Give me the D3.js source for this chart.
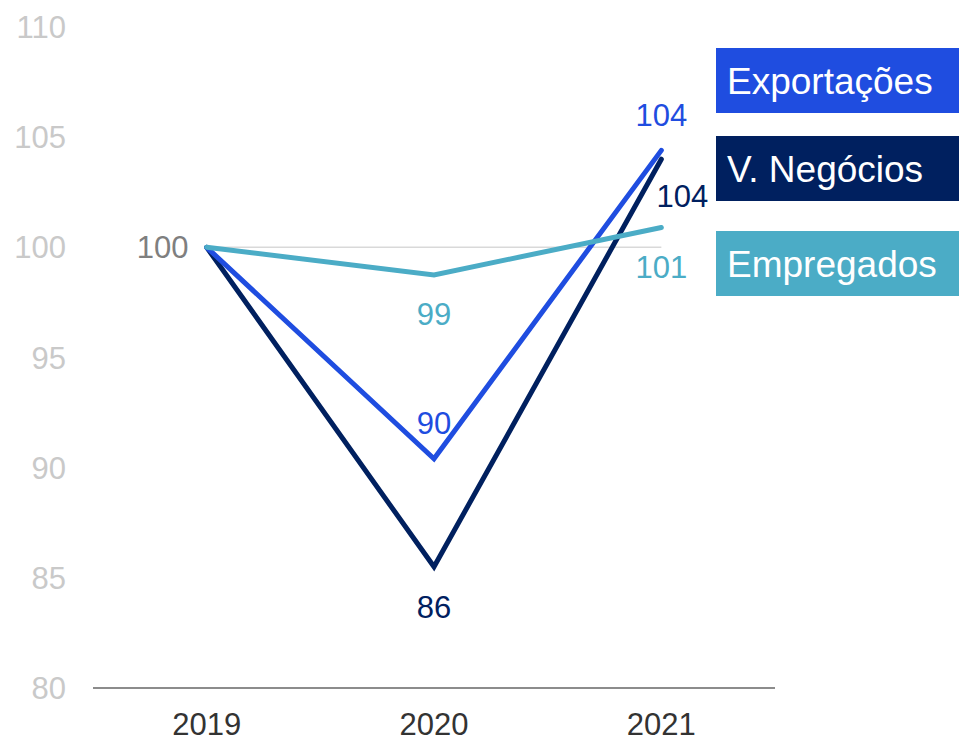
<!DOCTYPE html>
<html>
<head>
<meta charset="utf-8">
<script src="https://cdn.jsdelivr.net/npm/d3@7"></script>
<style>
  body { margin: 0; background: #fff; }
  svg { font-family: "Liberation Sans", Arial, sans-serif; }
</style>
</head>
<body>
<div id="chart"></div>
<script>
// data
const years = ["2019", "2020", "2021"];
const exportacoes = [100, 90.4, 104.4];
const negocios = [100, 85.5, 104.0];
const empregados = [100, 98.75, 100.9];
const yTicks = [80, 85, 90, 95, 100, 105, 110];

const width = 959, height = 738;

const svg = d3.select("#chart").append("svg")
    .attr("width", width)
    .attr("height", height);

const x = d3.scalePoint()
    .domain(years)
    .range([93, 775])
    .padding(0.5);

const y = d3.scaleLinear()
    .domain([80, 110])
    .range([688, 27]);

// y tick labels
svg.append("g").selectAll("text")
    .data(yTicks)
    .enter().append("text")
    .attr("x", 66)
    .attr("y", d => y(d))
    .attr("dy", "0.36em")
    .attr("text-anchor", "end")
    .style("font-size", "31px")
    .style("fill", "#c9c9c9")
    .text(d => d);

// gridline at 100
svg.append("line")
    .attr("x1", x("2019")).attr("x2", x("2021"))
    .attr("y1", y(100)).attr("y2", y(100))
    .style("stroke", "#d9d9d9")
    .style("stroke-width", 1.5);

// x axis
svg.append("line")
    .attr("x1", 93).attr("x2", 775)
    .attr("y1", y(80)).attr("y2", y(80))
    .style("stroke", "#8c8c8c")
    .style("stroke-width", 2);

svg.append("g").selectAll("text")
    .data(years)
    .enter().append("text")
    .attr("x", d => x(d))
    .attr("y", 735)
    .attr("text-anchor", "middle")
    .style("font-size", "31px")
    .style("fill", "#333")
    .text(d => d);

const series = [
    { name: "Exportações", values: exportacoes, color: "#1f4de0" },
    { name: "V. Negócios", values: negocios, color: "#00205f" },
    { name: "Empregados", values: empregados, color: "#4bacc6" }
];

const line = d3.line()
    .x((d, i) => x(years[i]))
    .y(d => y(d));

// draw order: navy, blue, teal on top
[series[1], series[0], series[2]].forEach(s => {
    svg.append("path")
        .datum(s.values)
        .attr("d", line)
        .style("fill", "none")
        .style("stroke", s.color)
        .style("stroke-width", 5)
        .style("stroke-linecap", "round")
        .style("stroke-linejoin", "miter");
});

// data labels
const labels = [
    { s: 0, i: 0, dx: -44, dy: 0, color: "#7f7f7f" },
    { s: 2, i: 1, dx: 0, dy: 39 },
    { s: 0, i: 1, dx: 0, dy: -36 },
    { s: 1, i: 1, dx: 0, dy: 40 },
    { s: 0, i: 2, dx: 0, dy: -36 },
    { s: 1, i: 2, dx: 21, dy: 37 },
    { s: 2, i: 2, dx: 0, dy: 39 }
];

svg.append("g").selectAll("text")
    .data(labels)
    .enter().append("text")
    .attr("x", d => x(years[d.i]) + d.dx)
    .attr("y", d => y(series[d.s].values[d.i]) + d.dy)
    .attr("dy", "0.36em")
    .attr("text-anchor", "middle")
    .style("font-size", "31px")
    .style("fill", d => d.color || series[d.s].color)
    .text(d => Math.round(series[d.s].values[d.i]));

// legend boxes
const legendY = [48, 136, 231];
const lg = svg.append("g").selectAll("g")
    .data(series)
    .enter().append("g")
    .attr("transform", (d, i) => "translate(716," + legendY[i] + ")");

lg.append("rect")
    .attr("width", 243)
    .attr("height", 65)
    .style("fill", d => d.color);

lg.append("text")
    .attr("x", 11)
    .attr("y", 33)
    .attr("dy", "0.36em")
    .style("font-size", "37px")
    .style("fill", "#fff")
    .text(d => d.name);
</script>
</body>
</html>
